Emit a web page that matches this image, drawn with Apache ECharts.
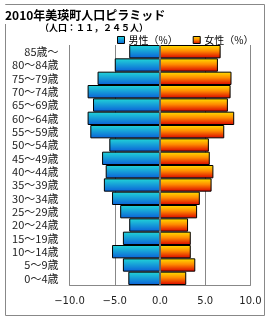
<!DOCTYPE html>
<html><head><meta charset="utf-8">
<script src="https://cdn.jsdelivr.net/npm/echarts@6/dist/echarts.min.js"></script>
<style>html,body{margin:0;padding:0;background:#fff}#c{width:270px;height:320px}</style>
</head><body><div id="c"></div>
<script>
const categories = ['0～4歳','5～9歳','10～14歳','15～19歳','20～24歳','25～29歳','30～34歳','35～39歳','40～44歳','45～49歳','50～54歳','55～59歳','60～64歳','65～69歳','70～74歳','75～79歳','80～84歳','85歳～'];
const male = [3.5,4.1,5.3,4.1,3.4,4.4,5.3,6.2,6.0,6.4,5.6,7.7,8.0,7.4,8.0,6.9,5.0,3.4];
const female = [2.9,3.9,3.4,3.4,3.1,4.1,4.4,5.7,5.9,5.5,5.4,7.1,8.2,7.5,7.8,7.9,6.4,6.7];
const xTicks = [-10,-5,0,5,10];

const FONT = '"Noto Sans CJK JP", sans-serif';
const maleGrad = {type:'linear',x:0,y:0,x2:0,y2:1,colorStops:[{offset:0,color:'#22D8D8'},{offset:1,color:'#0a5fd8'}]};
const femaleGrad = {type:'linear',x:0,y:0,x2:0,y2:1,colorStops:[{offset:0,color:'#FFE400'},{offset:0.45,color:'#FF8C00'},{offset:1,color:'#D80000'}]};

const chart = echarts.init(document.getElementById('c'), null, {renderer:'canvas'});
chart.setOption({
  animation:false,
  backgroundColor:'#fff',
  graphic:[{type:'rect',shape:{x:5.5,y:4.5,width:259,height:311},style:{fill:'none',stroke:'#888',lineWidth:1},z:-10}],
  title:[
    {text:'2010年美瑛町人口ピラミッド',left:2,top:5,padding:[4,3,3,3],backgroundColor:'#fff',
     textStyle:{fontFamily:FONT,fontSize:12,fontWeight:'bold',color:'#000'}},
    {text:'（人口：１１，２４５人）',left:40,top:23,padding:0,
     textStyle:{fontFamily:FONT,fontSize:9,fontWeight:'bold',color:'#000'}}
  ],
  legend:{
    top:35,left:117,itemWidth:7,itemHeight:7,itemGap:15,icon:'rect',padding:0,
    textStyle:{fontFamily:FONT,fontSize:10,color:'#000',padding:[0,0,0,-1]},
    data:[{name:'男性（%）',itemStyle:{color:maleGrad,borderColor:'#000',borderWidth:1}},
          {name:'女性（%）',itemStyle:{color:femaleGrad,borderColor:'#000',borderWidth:1}}]
  },
  grid:{left:69.5,right:19.5,top:45,bottom:35,containLabel:false},
  xAxis:{
    type:'value',min:-10,max:10,interval:5,
    axisLine:{show:true,lineStyle:{color:'#888'}},
    axisTick:{show:false},
    splitLine:{show:true,lineStyle:{color:'#888',width:1}},
    axisLabel:{margin:11,fontFamily:'"DejaVu Sans", sans-serif',fontSize:10,color:'#222',
      formatter:v=>(v<0?'−':'')+Math.abs(v).toFixed(1)}
  },
  yAxis:{
    type:'category',data:categories,
    axisLine:{show:false},axisTick:{show:false},
    axisLabel:{interval:0,margin:11,fontFamily:FONT,fontSize:11,color:'#222'}
  },
  series:[
    {name:'男性（%）',type:'bar',data:male.map(v=>-v),barGap:'-100%',barCategoryGap:'0%',
     itemStyle:{color:maleGrad,borderColor:'#000',borderWidth:1},
     markLine:{silent:true,symbol:'none',label:{show:false},lineStyle:{color:'#888',type:'solid',width:1.5},data:[{xAxis:0}]},
     z:2},
    {name:'女性（%）',type:'bar',data:female,barGap:'-100%',barCategoryGap:'0%',
     itemStyle:{color:femaleGrad,borderColor:'#000',borderWidth:1},z:1}
  ]
});
</script></body></html>
